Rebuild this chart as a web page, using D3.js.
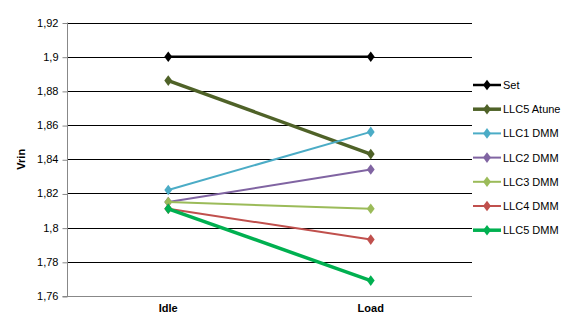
<!DOCTYPE html>
<html><head><meta charset="utf-8">
<script src="https://cdn.jsdelivr.net/npm/d3@7"></script>
<style>body{margin:0;background:#fff;}svg{display:block;font-family:"Liberation Sans",Arial,sans-serif;}</style>
</head><body>
<svg id="c" width="568" height="329"></svg>
<script>
const categories = ["Idle", "Load"];
const seriesNames = ["Set", "LLC5 Atune", "LLC1 DMM", "LLC2 DMM", "LLC3 DMM", "LLC4 DMM", "LLC5 DMM"];
const setValues = [1.9, 1.9];
const llc5AtuneValues = [1.886, 1.843];
const llc1Values = [1.822, 1.856];
const llc2Values = [1.815, 1.834];
const llc3Values = [1.815, 1.811];
const llc4Values = [1.811, 1.793];
const llc5DmmValues = [1.811, 1.769];
const yTicks = [1.76, 1.78, 1.8, 1.82, 1.84, 1.86, 1.88, 1.9, 1.92];
const yTickLabels = ["1,76", "1,78", "1,8", "1,82", "1,84", "1,86", "1,88", "1,9", "1,92"];
const yTitle = "Vrin";

const seriesValues = [setValues, llc5AtuneValues, llc1Values, llc2Values, llc3Values, llc4Values, llc5DmmValues];
const colors = ["#000000", "#4F6228", "#4BACC6", "#8064A2", "#9BBB59", "#C0504D", "#00B050"];
const widths = [2.5, 3.5, 2, 2, 2, 2, 3.5];

const svg = d3.select("#c");
const L = 67, R = 472, T = 22.5, B = 296;
const x = d3.scaleBand().domain(categories).range([L, R]);
const y = d3.scaleLinear().domain([1.76, 1.92]).range([B, T]);

// gridlines
svg.append("g").selectAll("line").data(yTicks.slice(1)).join("line")
  .attr("x1", L).attr("x2", R)
  .attr("y1", d => Math.round(y(d)) + 0.5).attr("y2", d => Math.round(y(d)) + 0.5)
  .attr("stroke", "#000").attr("stroke-width", 1);

// y axis
const yAxis = d3.axisLeft(y).tickValues(yTicks).tickFormat((d, i) => yTickLabels[i]).tickSize(5).tickPadding(4);
const ga = svg.append("g").attr("transform", `translate(${L + 0.5},0)`).call(yAxis);
ga.select(".domain").attr("stroke", "#888").attr("d", `M-5,${B + 0.5}H0V${T}`);
ga.selectAll(".tick line").attr("stroke", "#888").attr("transform", "translate(0,0.5)");
ga.selectAll(".tick text").attr("font-size", 11).attr("fill", "#000").attr("font-family", "Liberation Sans, Arial, sans-serif");

// x axis
const xAxis = d3.axisBottom(x).tickSize(0).tickPadding(8);
const gx = svg.append("g").attr("transform", `translate(0,${Math.round(B) + 0.5})`).call(xAxis);
gx.select(".domain").attr("stroke", "#888").attr("d", `M${L},0H${R}`);
gx.selectAll(".tick text").attr("font-size", 11).attr("font-weight", "bold").attr("fill", "#000").attr("font-family", "Liberation Sans, Arial, sans-serif");

// y title
svg.append("text").attr("transform", `translate(25,${(T + B) / 2}) rotate(-90)`)
  .attr("text-anchor", "middle").attr("font-size", 11).attr("font-weight", "bold").text(yTitle);

const cx = d => x(d) + x.bandwidth() / 2;
const diamond = d3.symbol().type(d3.symbolDiamond2 || d3.symbolDiamond).size(45);
const line = d3.line().x((d, i) => cx(categories[i])).y(d => y(d));

seriesValues.forEach((vals, s) => {
  const g = svg.append("g");
  g.append("path").datum(vals).attr("d", line).attr("fill", "none")
    .attr("stroke", colors[s]).attr("stroke-width", widths[s]);
  g.selectAll("path.m").data(vals).join("path").attr("class", "m")
    .attr("d", d3.symbol().type(d3.symbolDiamond).size(40))
    .attr("transform", (d, i) => `translate(${cx(categories[i])},${y(d)}) scale(1.15,0.9)`)
    .attr("fill", colors[s]);
});

// legend
const lg = svg.append("g");
seriesNames.forEach((n, i) => {
  const yy = 85 + i * 24.2;
  lg.append("line").attr("x1", 473).attr("x2", 501).attr("y1", yy).attr("y2", yy)
    .attr("stroke", colors[i]).attr("stroke-width", widths[i]);
  lg.append("path").attr("d", d3.symbol().type(d3.symbolDiamond).size(40))
    .attr("transform", `translate(487,${yy}) scale(1.15,0.9)`).attr("fill", colors[i]);
  lg.append("text").attr("x", 503).attr("y", yy + 4).attr("font-size", 11).text(n);
});
</script>
</body></html>
